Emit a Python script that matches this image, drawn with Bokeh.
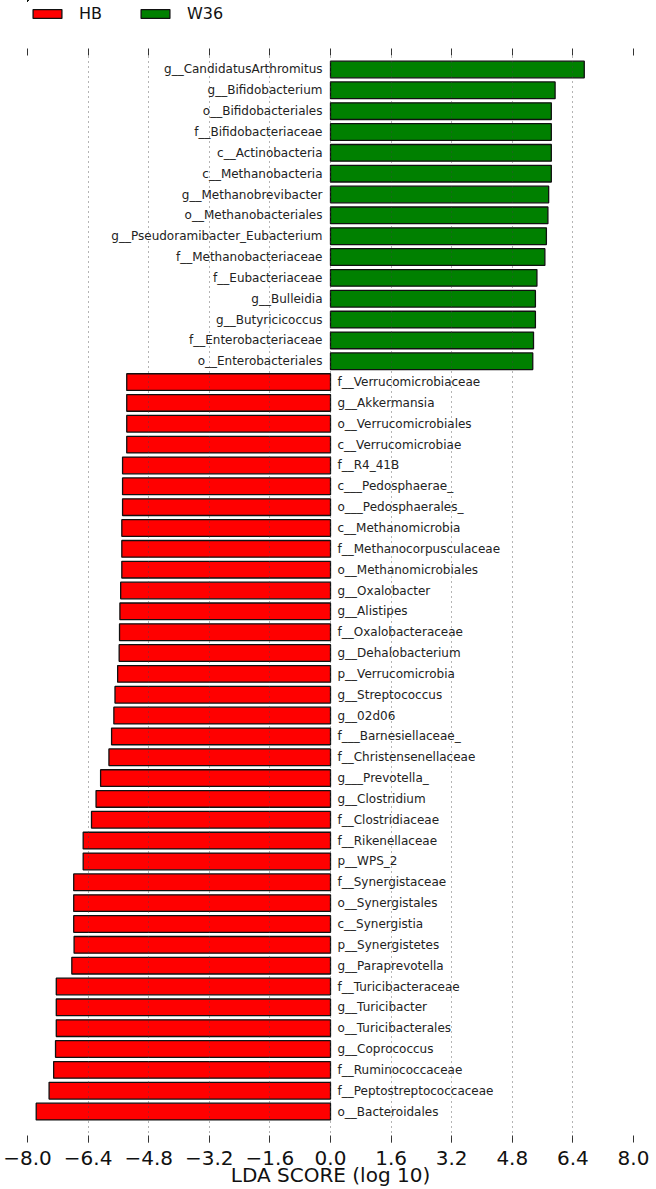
from bokeh.plotting import figure
from bokeh.layouts import column
from bokeh.models import (ColumnDataSource, Range1d, FixedTicker, LinearAxis,
                          CustomJSTickFormatter, Legend, LegendItem)
from bokeh.core.properties import value
from bokeh.embed import file_html
from bokeh.resources import INLINE

# ---------------- data ----------------
w36_names = [
    "g__CandidatusArthromitus", "g__Bifidobacterium", "o__Bifidobacteriales",
    "f__Bifidobacteriaceae", "c__Actinobacteria", "c__Methanobacteria",
    "g__Methanobrevibacter", "o__Methanobacteriales",
    "g__Pseudoramibacter_Eubacterium", "f__Methanobacteriaceae",
    "f__Eubacteriaceae", "g__Bulleidia", "g__Butyricicoccus",
    "f__Enterobacteriaceae", "o__Enterobacteriales",
]
w36_lda = [6.70, 5.93, 5.83, 5.83, 5.83, 5.83, 5.76, 5.74, 5.70, 5.66,
           5.45, 5.41, 5.41, 5.36, 5.34]

hb_names = [
    "f__Verrucomicrobiaceae", "g__Akkermansia", "o__Verrucomicrobiales",
    "c__Verrucomicrobiae", "f__R4_41B", "c___Pedosphaerae_",
    "o___Pedosphaerales_", "c__Methanomicrobia", "f__Methanocorpusculaceae",
    "o__Methanomicrobiales", "g__Oxalobacter", "g__Alistipes",
    "f__Oxalobacteraceae", "g__Dehalobacterium", "p__Verrucomicrobia",
    "g__Streptococcus", "g__02d06", "f___Barnesiellaceae_",
    "f__Christensenellaceae", "g___Prevotella_", "g__Clostridium",
    "f__Clostridiaceae", "f__Rikenellaceae", "p__WPS_2",
    "f__Synergistaceae", "o__Synergistales", "c__Synergistia",
    "p__Synergistetes", "g__Paraprevotella", "f__Turicibacteraceae",
    "g__Turicibacter", "o__Turicibacterales", "g__Coprococcus",
    "f__Ruminococcaceae", "f__Peptostreptococcaceae", "o__Bacteroidales",
]
hb_lda = [5.38, 5.38, 5.38, 5.38, 5.49, 5.49, 5.49, 5.51, 5.51, 5.51,
          5.54, 5.56, 5.57, 5.58, 5.62, 5.69, 5.72, 5.78, 5.85, 6.07,
          6.19, 6.31, 6.53, 6.53, 6.78, 6.78, 6.78, 6.77, 6.83, 7.24,
          7.24, 7.24, 7.26, 7.31, 7.43, 7.77]

x_ticks = [-8.0, -6.4, -4.8, -3.2, -1.6, 0.0, 1.6, 3.2, 4.8, 6.4, 8.0]
groups = ["HB", "W36"]
group_colors = ["#ff0000", "#008000"]

# ---------------- sources ----------------
n_total = len(w36_names) + len(hb_names)
w36_y = [n_total - 1 - i for i in range(len(w36_names))]
hb_y = [n_total - 1 - len(w36_names) - i for i in range(len(hb_names))]

src_w = ColumnDataSource(dict(y=w36_y, right=w36_lda, name=w36_names))
src_h = ColumnDataSource(dict(y=hb_y, left=[-v for v in hb_lda], name=hb_names))

FONT = "DejaVu Sans"
LEG_H = 26
TOTAL_H = 1189
BAR_STYLE = dict(height=0.8, line_color="#111111", line_width=1.3)

# ---------------- legend strip (same bars, kept far outside its view) ----------------
lf = figure(width=656, height=LEG_H, min_border=0,
            min_border_left=0, min_border_right=0,
            min_border_top=0, min_border_bottom=0,
            x_range=Range1d(1000, 1001), y_range=Range1d(-3.5, -2.5),
            output_backend="svg", toolbar_location=None,
            x_axis_type=None, y_axis_type=None)
lf.outline_line_color = None
lf.grid.visible = False
lr_h = lf.hbar(y="y", left="left", right=0, source=src_h,
               fill_color=group_colors[0], **BAR_STYLE)
lr_w = lf.hbar(y="y", left=0, right="right", source=src_w,
               fill_color=group_colors[1], **BAR_STYLE)
legend = Legend(items=[LegendItem(label=groups[0], renderers=[lr_h]),
                       LegendItem(label=groups[1], renderers=[lr_w])],
                orientation="horizontal", location=(2, 3),
                glyph_width=36, glyph_height=11, label_standoff=14,
                spacing=35, padding=3, margin=0,
                border_line_color=None, background_fill_alpha=0,
                label_text_font=FONT, label_text_font_size="16px",
                label_text_color="#111111")
lf.add_layout(legend, "center")

# ---------------- main chart ----------------
p = figure(width=656, height=TOTAL_H - LEG_H,
           min_border_left=27, min_border_right=23,
           min_border_top=48 - LEG_H, min_border_bottom=45,
           x_range=Range1d(-8, 8), y_range=Range1d(-1.485, 51.006),
           output_backend="svg", toolbar_location=None,
           y_axis_location=None)
p.outline_line_color = None
p.background_fill_color = "white"
p.border_fill_color = "white"

p.hbar(y="y", left=0, right="right", source=src_w,
       fill_color=group_colors[1], **BAR_STYLE)
p.hbar(y="y", left="left", right=0, source=src_h,
       fill_color=group_colors[0], **BAR_STYLE)

p.text(x=0, y="y", text="name", source=src_w, x_offset=-8,
       text_align="right", text_baseline="middle",
       text_font=value(FONT), text_font_size="12px", text_color="#222222")
p.text(x=0, y="y", text="name", source=src_h, x_offset=7,
       text_align="left", text_baseline="middle",
       text_font=value(FONT), text_font_size="12px", text_color="#222222")

# grid (dotted, drawn over the bars)
p.ygrid.visible = False
p.xgrid.ticker = FixedTicker(ticks=x_ticks)
p.xgrid.grid_line_color = "#444444"
p.xgrid.grid_line_alpha = 0.8
p.xgrid.grid_line_dash = "1 4"
p.xgrid.grid_line_width = 1
p.xgrid.level = "annotation"

# bottom axis
fmt = CustomJSTickFormatter(code="return (tick < -1e-9 ? '\\u2212' : '') + Math.abs(tick).toFixed(1);")
ax = p.xaxis[0]
ax.ticker = FixedTicker(ticks=x_ticks)
ax.formatter = fmt
ax.axis_line_color = None
ax.major_tick_in = 7
ax.major_tick_out = 0
ax.major_tick_line_color = "#333333"
ax.minor_tick_line_color = None
ax.major_label_standoff = 8
ax.major_label_text_font = FONT
ax.major_label_text_font_size = "20px"
ax.major_label_text_color = "#111111"
ax.axis_label = "LDA SCORE (log 10)"
ax.axis_label_standoff = -5
ax.axis_label_text_font = FONT
ax.axis_label_text_font_size = "20px"
ax.axis_label_text_font_style = "normal"
ax.axis_label_text_color = "#111111"

# top axis: tick marks only
top = LinearAxis(ticker=FixedTicker(ticks=x_ticks),
                 formatter=CustomJSTickFormatter(code="return '';"),
                 axis_line_color=None, major_tick_in=7, major_tick_out=0,
                 major_tick_line_color="#333333", minor_tick_line_color=None,
                 major_label_standoff=0, major_label_text_font_size="8px")
p.add_layout(top, "above")

layout = column(lf, p, spacing=0)
open("out.html", "w").write(file_html(layout, INLINE))
